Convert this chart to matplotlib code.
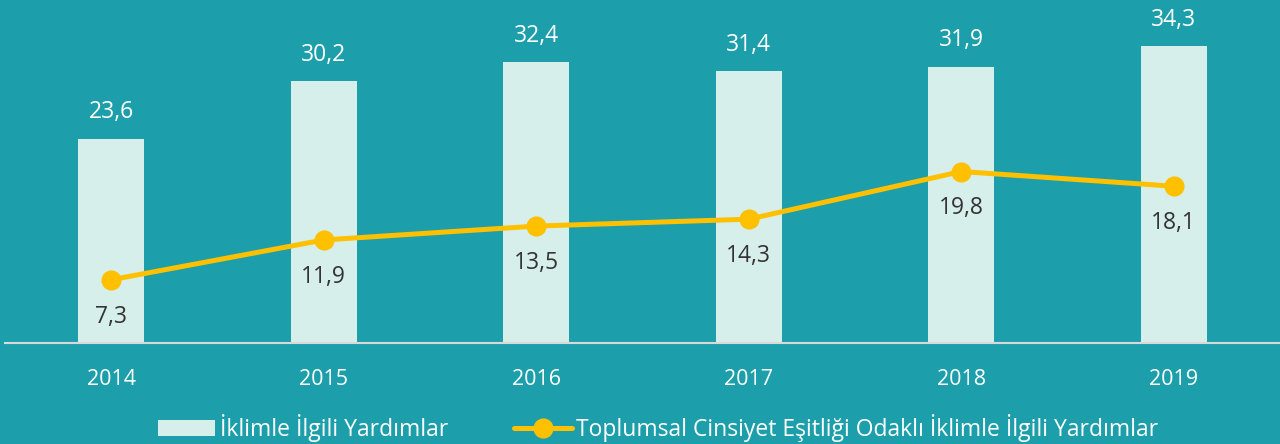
import matplotlib
matplotlib.use('Agg')
from matplotlib import pyplot as plt

years = ['2014', '2015', '2016', '2017', '2018', '2019']
climate_aid = [23.6, 30.2, 32.4, 31.4, 31.9, 34.3]
gender_climate_aid = [7.3, 11.9, 13.5, 14.3, 19.8, 18.1]

bar_label = 'İklimle İlgili Yardımlar'
line_label = 'Toplumsal Cinsiyet Eşitliği Odaklı İklimle İlgili Yardımlar'

bg = '#1C9FAA'
bar_color = '#D7EFEA'
line_color = '#FFC000'

plt.rcParams['font.family'] = ['Open Sans', 'DejaVu Sans']

fig = plt.figure(figsize=(12.8, 4.44), dpi=100, facecolor=bg)
ax = fig.add_axes([5 / 1280, 101 / 444, 1275 / 1280, 343 / 444])
ax.set_facecolor(bg)

x = range(len(years))
bars = ax.bar(x, climate_aid, width=0.31, color=bar_color, label=bar_label, zorder=2)
line, = ax.plot(x, gender_climate_aid, color=line_color, lw=3.6, marker='o', ms=13.5,
                label=line_label, zorder=3, solid_capstyle='round')

for i, v in enumerate(climate_aid):
    ax.annotate(f'{v:.1f}'.replace('.', ','), (i, v), xytext=(0, 19),
                textcoords='offset points', ha='center', va='center',
                color='white', fontsize=16.5)
for i, v in enumerate(gender_climate_aid):
    ax.annotate(f'{v:.1f}'.replace('.', ','), (i, v), xytext=(0, -26.5),
                textcoords='offset points', ha='center', va='center',
                color='#333333', fontsize=16.5)

ax.set_xlim(-0.5, 5.5)
ax.set_ylim(0, 343 / 8.66)
ax.set_xticks(list(x))
ax.set_xticklabels(years, color='white', fontsize=15.5)
ax.tick_params(axis='x', length=0, pad=19)
ax.set_yticks([])
for s in ['top', 'right', 'left']:
    ax.spines[s].set_visible(False)
ax.spines['bottom'].set_color('#D9D9D9')
ax.spines['bottom'].set_linewidth(1.5)

leg = fig.legend([bars, line], [bar_label, line_label], loc='center',
                 bbox_to_anchor=(658 / 1280, 1 - 428 / 444), ncol=2,
                 frameon=False, fontsize=16.5, handlelength=2.5, handletextpad=0.2,
                 columnspacing=2.9)
for t in leg.get_texts():
    t.set_color('white')

fig.savefig('out.png', dpi=100, facecolor=bg)
